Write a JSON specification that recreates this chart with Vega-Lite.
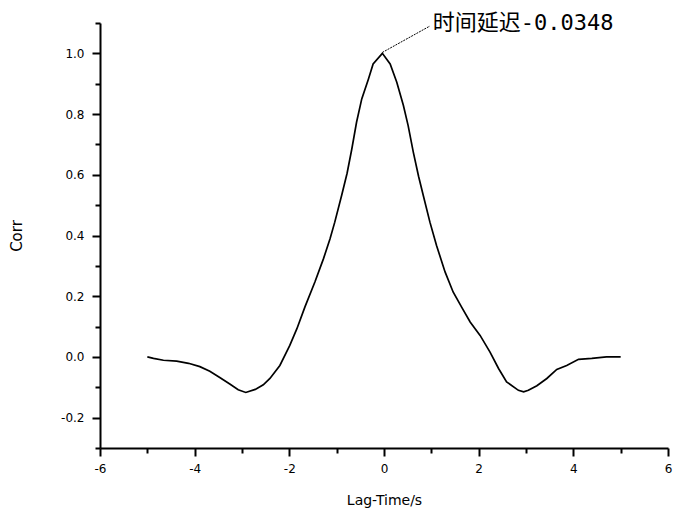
{
  "$schema": "https://vega.github.io/schema/vega-lite/v6.json",
  "width": 568,
  "height": 425,
  "autosize": "none",
  "padding": {"left": 100, "top": 23, "right": 5, "bottom": 61},
  "background": "white",
  "config": {
    "view": {"stroke": null},
    "axis": {
      "domainColor": "black",
      "domainWidth": 2,
      "tickColor": "black",
      "tickWidth": 2,
      "labelFont": "DejaVu Sans",
      "labelFontSize": 12,
      "labelColor": "black",
      "titleFont": "DejaVu Sans",
      "titleFontWeight": "normal",
      "titleColor": "black",
      "titleFontSize": 14,
      "grid": false,
      "labelOverlap": false,
      "labelFlush": false,
      "labelBound": false
    }
  },
  "resolve": {"axis": {"x": "independent", "y": "independent"}},
  "datasets": {
    "curve": [
      {"lag": -5.0, "corr": 0.0},
      {"lag": -4.87, "corr": -0.005},
      {"lag": -4.66, "corr": -0.011},
      {"lag": -4.38, "corr": -0.014},
      {"lag": -4.13, "corr": -0.021},
      {"lag": -3.89, "corr": -0.032},
      {"lag": -3.68, "corr": -0.047},
      {"lag": -3.47, "corr": -0.068},
      {"lag": -3.25, "corr": -0.09},
      {"lag": -3.08, "corr": -0.108},
      {"lag": -2.92, "corr": -0.117},
      {"lag": -2.72, "corr": -0.107},
      {"lag": -2.55, "corr": -0.092},
      {"lag": -2.41, "corr": -0.071},
      {"lag": -2.2, "corr": -0.028},
      {"lag": -1.99, "corr": 0.038},
      {"lag": -1.84, "corr": 0.093},
      {"lag": -1.67, "corr": 0.165},
      {"lag": -1.46, "corr": 0.247},
      {"lag": -1.28, "corr": 0.323},
      {"lag": -1.14, "corr": 0.389},
      {"lag": -1.04, "corr": 0.444},
      {"lag": -0.89, "corr": 0.535},
      {"lag": -0.78, "corr": 0.605},
      {"lag": -0.68, "corr": 0.685},
      {"lag": -0.58, "corr": 0.773},
      {"lag": -0.47, "corr": 0.85},
      {"lag": -0.33, "corr": 0.915},
      {"lag": -0.23, "corr": 0.965},
      {"lag": -0.035, "corr": 1.0},
      {"lag": 0.13, "corr": 0.965},
      {"lag": 0.27, "corr": 0.905},
      {"lag": 0.41, "corr": 0.828},
      {"lag": 0.51, "corr": 0.762},
      {"lag": 0.62, "corr": 0.674},
      {"lag": 0.73, "corr": 0.595},
      {"lag": 0.83, "corr": 0.532},
      {"lag": 0.97, "corr": 0.444},
      {"lag": 1.11, "corr": 0.367},
      {"lag": 1.29, "corr": 0.28},
      {"lag": 1.46, "corr": 0.214},
      {"lag": 1.64, "corr": 0.164},
      {"lag": 1.82, "corr": 0.115},
      {"lag": 2.03, "corr": 0.071},
      {"lag": 2.24, "corr": 0.016},
      {"lag": 2.42, "corr": -0.038},
      {"lag": 2.59, "corr": -0.082},
      {"lag": 2.84, "corr": -0.11},
      {"lag": 2.95, "corr": -0.115},
      {"lag": 3.05, "corr": -0.11},
      {"lag": 3.23, "corr": -0.095},
      {"lag": 3.44, "corr": -0.071},
      {"lag": 3.65, "corr": -0.041},
      {"lag": 3.86, "corr": -0.028},
      {"lag": 4.11, "corr": -0.008},
      {"lag": 4.39, "corr": -0.005},
      {"lag": 4.7, "corr": 0.0},
      {"lag": 5.0, "corr": 0.0}
    ],
    "note": [
      {"lag": -0.035, "corr": 1.003, "lag2": 0.97, "corr2": 1.09, "tx": 1.03, "ty": 1.1, "label": "时间延迟-0.0348"}
    ]
  },
  "layer": [
    {
      "data": {"name": "curve"},
      "mark": {"type": "line", "color": "black", "strokeWidth": 1.7, "interpolate": "linear"},
      "encoding": {
        "x": {
          "field": "lag",
          "type": "quantitative",
          "title": "Lag-Time/s",
          "scale": {"domain": [-6, 6], "nice": false, "zero": false},
          "axis": {
            "orient": "bottom",
            "values": [-6, -4, -2, 0, 2, 4, 6],
            "labelExpr": "toString(datum.value)",
            "tickSize": 8,
            "labelPadding": 7,
            "titlePadding": 19
          }
        },
        "y": {
          "field": "corr",
          "type": "quantitative",
          "title": "Corr",
          "scale": {"domain": [-0.3, 1.1], "nice": false, "zero": false},
          "axis": {
            "orient": "left",
            "titleFontSize": 15,
            "values": [-0.2, 0, 0.2, 0.4, 0.6, 0.8, 1.0],
            "labelExpr": "replace(format(datum.value, '.1f'), '\u2212', '-')",
            "tickSize": 8,
            "labelPadding": 8,
            "titlePadding": 36
          }
        }
      }
    },
    {
      "data": {"name": "note"},
      "mark": {"type": "rule", "color": "black", "strokeWidth": 1, "strokeDash": [2, 1]},
      "encoding": {
        "x": {
          "field": "lag",
          "type": "quantitative",
          "axis": {
            "orient": "bottom",
            "values": [-5, -3, -1, 1, 3, 5],
            "labels": false,
            "title": null,
            "domain": false,
            "tickSize": 5
          }
        },
        "y": {
          "field": "corr",
          "type": "quantitative",
          "axis": {
            "orient": "left",
            "values": [-0.3, -0.1, 0.1, 0.3, 0.5, 0.7, 0.9, 1.1],
            "labels": false,
            "title": null,
            "domain": false,
            "tickSize": 5
          }
        },
        "x2": {"field": "lag2"},
        "y2": {"field": "corr2"}
      }
    },
    {
      "data": {"name": "note"},
      "mark": {"type": "text", "align": "left", "baseline": "middle", "font": "DejaVu Sans Mono, Noto Sans CJK SC", "fontSize": 22, "color": "black"},
      "encoding": {
        "x": {"field": "tx", "type": "quantitative", "axis": null},
        "y": {"field": "ty", "type": "quantitative", "axis": null},
        "text": {"field": "label"}
      }
    }
  ]
}
